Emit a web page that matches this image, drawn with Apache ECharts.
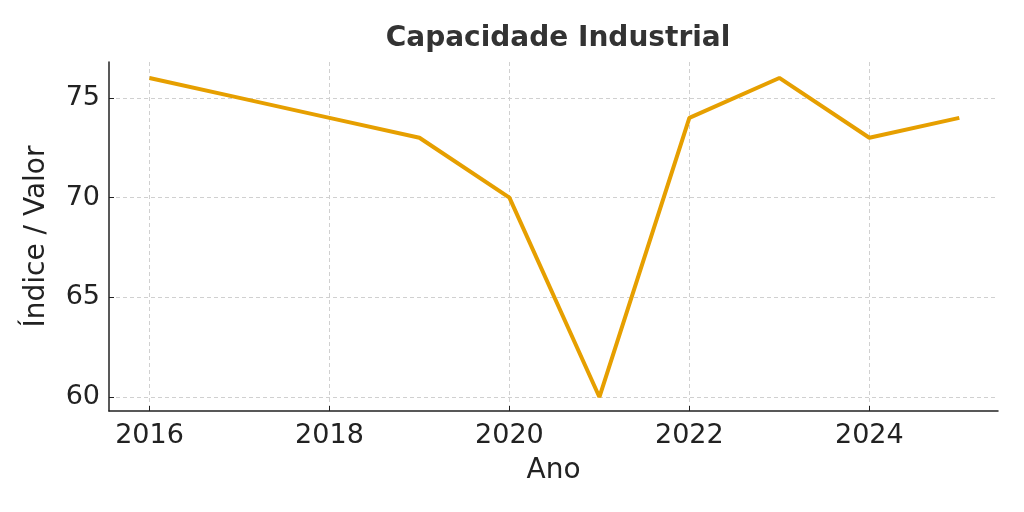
<!DOCTYPE html>
<html>
<head>
<meta charset="utf-8">
<script src="https://cdn.jsdelivr.net/npm/echarts@6/dist/echarts.min.js"></script>
<style>
  html, body { margin: 0; padding: 0; background: #fff; }
  #chart { width: 1024px; height: 512px; }
</style>
</head>
<body>
<div id="chart"></div>
<script>
var anos = [2016, 2017, 2018, 2019, 2020, 2021, 2022, 2023, 2024, 2025];
var valores = [76, 75, 74, 73, 70, 60, 74, 76, 73, 74];
var xTicks = [2016, 2018, 2020, 2022, 2024];
var yTicks = [60, 65, 70, 75];

var chart = echarts.init(document.getElementById('chart'));
var fonte = 'DejaVu Sans';
var gridLine = { show: true, lineStyle: { color: '#d0d0d0', type: [4, 3], width: 1 } };

var option = {
    animation: false,
    backgroundColor: '#fff',
    title: {
        text: 'Capacidade Industrial',
        left: 553, top: 20, textAlign: 'center',
        textStyle: { fontFamily: fonte, fontSize: 28, fontWeight: 'bold', color: '#333' }
    },
    grid: { left: 109, right: 26, top: 62, bottom: 101 },
    xAxis: {
        type: 'value',
        min: 2015.55, max: 2025.43,
        name: 'Ano', nameLocation: 'middle', nameGap: 46,
        nameTextStyle: { fontFamily: fonte, fontSize: 28, color: '#222' },
        axisLine: { show: true, lineStyle: { color: '#222', width: 1.5 } },
        axisTick: { show: true, inside: true, length: 5, customValues: xTicks, lineStyle: { color: '#222' } },
        axisLabel: { customValues: xTicks, fontFamily: fonte, fontSize: 27, color: '#222', margin: 11,
            formatter: function (v) { return String(v); } },
        splitLine: gridLine
    },
    yAxis: {
        type: 'value',
        min: 59.3, max: 76.8,
        name: 'Índice / Valor', nameLocation: 'middle', nameGap: 58, nameRotate: 90,
        nameTextStyle: { fontFamily: fonte, fontSize: 28, color: '#222' },
        axisLine: { show: true, lineStyle: { color: '#222', width: 1.5 } },
        axisTick: { show: true, inside: true, length: 5, customValues: yTicks, lineStyle: { color: '#222' } },
        axisLabel: { customValues: yTicks, fontFamily: fonte, fontSize: 27, color: '#222', margin: 9 },
        splitLine: gridLine
    },
    series: [{
        type: 'line',
        data: anos.map(function (a, i) { return [a, valores[i]]; }),
        showSymbol: false,
        lineStyle: { color: '#E69F00', width: 4 },
        itemStyle: { color: '#E69F00' }
    }]
};
chart.setOption(option);
</script>
</body>
</html>
